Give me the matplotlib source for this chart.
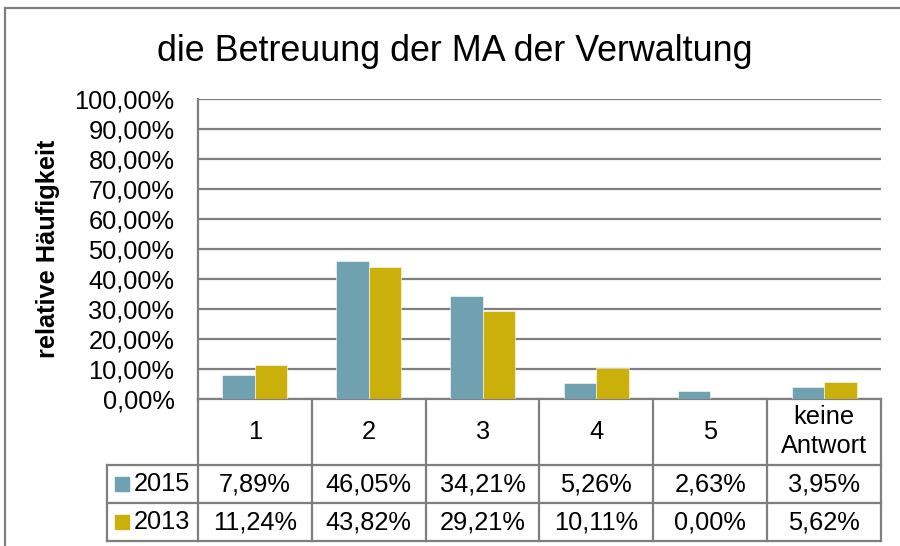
import matplotlib.pyplot as plt
from matplotlib.patches import Rectangle
from matplotlib.lines import Line2D
from matplotlib.transforms import blended_transform_factory
import numpy as np

plt.rcParams['font.family'] = ['Liberation Sans', 'DejaVu Sans']

categories = ['1', '2', '3', '4', '5', 'keine\nAntwort']
series = ['2015', '2013']
values_2015 = [7.89, 46.05, 34.21, 5.26, 2.63, 3.95]
values_2013 = [11.24, 43.82, 29.21, 10.11, 0.00, 5.62]
colors = ['#70a1b1', '#cbaf0a']

GRAY = '#7f7f7f'
FS = 18.3


def pct(v):
    return f'{v:.2f}'.replace('.', ',') + '%'


fig = plt.figure(figsize=(9, 5.46), dpi=100)
ax = fig.add_axes([198 / 900, 1 - 398.7 / 546, (881 - 198) / 900, 300 / 546])

x = np.arange(len(categories))
w = 0.285
for i, (vals, col) in enumerate(zip([values_2015, values_2013], colors)):
    ax.bar(x + (i - 0.5) * w, vals, width=w, color=col, zorder=3,
           edgecolor='white', linewidth=0.4)

ax.set_xlim(-0.5, len(categories) - 0.5)
ax.set_ylim(0, 100)
ax.set_yticks(np.arange(0, 101, 10))
ax.set_yticklabels([pct(v) for v in np.arange(0, 101, 10)], fontsize=FS)
ax.tick_params(axis='y', length=0, pad=17)
ax.set_xticks([])
ax.yaxis.grid(True, color=GRAY, linewidth=1.6, zorder=0)
for s in ['top', 'right']:
    ax.spines[s].set_visible(False)
for s in ['left', 'bottom']:
    ax.spines[s].set_color(GRAY)
    ax.spines[s].set_linewidth(1.6)

ax.set_ylabel('relative Häufigkeit', fontsize=FS, fontweight='bold', labelpad=10)
fig.text(0.505, 0.905, 'die Betreuung der MA der Verwaltung', ha='center',
         va='center', fontsize=25.8)

# data table below the axis
tr = blended_transform_factory(ax.transData, ax.transAxes)
y_cat, y_r1, y_r2 = -0.221, -0.348, -0.475
x_left = -1.30
x_right = len(categories) - 0.5
line_kw = dict(color=GRAY, linewidth=1.6, transform=tr, clip_on=False)

for xb in np.arange(-0.5, len(categories), 1.0):
    ax.add_line(Line2D([xb, xb], [0, y_r2], **line_kw))
ax.add_line(Line2D([x_left, x_left], [y_cat, y_r2], **line_kw))
for yb in [y_cat, y_r1, y_r2]:
    ax.add_line(Line2D([x_left, x_right], [yb, yb], **line_kw))

for xi, cat in zip(x, categories):
    ax.text(xi, y_cat / 2, cat, transform=tr, ha='center', va='center',
            fontsize=FS, linespacing=1.25)

rows = [(series[0], values_2015, colors[0], (y_cat + y_r1) / 2),
        (series[1], values_2013, colors[1], (y_r1 + y_r2) / 2)]
for name, vals, col, yc in rows:
    ax.add_patch(Rectangle((x_left + 0.07, yc - 0.023), 0.12, 0.046,
                           transform=tr, color=col, clip_on=False))
    ax.text(x_left + 0.235, yc, name, transform=tr, ha='left', va='center',
            fontsize=FS)
    for xi, v in zip(x, vals):
        ax.text(xi, yc, pct(v), transform=tr, ha='center', va='center',
                fontsize=FS)

# outer chart border
fig.add_artist(Rectangle((5 / 900, -0.01), 1.0, 1 - 8 / 546 + 0.01,
                         transform=fig.transFigure, fill=False,
                         edgecolor=GRAY, linewidth=1.6))

fig.savefig('out.png', dpi=100)
